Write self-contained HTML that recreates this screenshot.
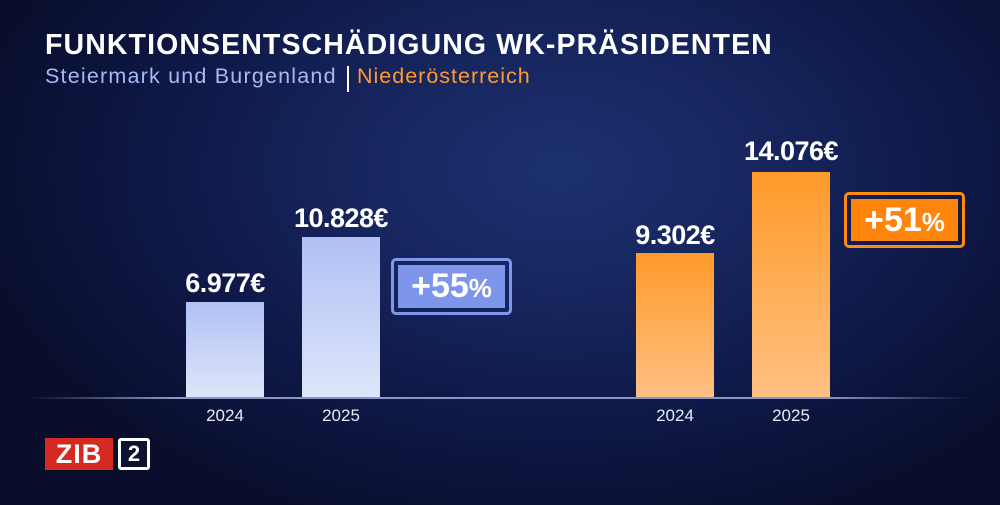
<!DOCTYPE html>
<html><head><meta charset="utf-8"><style>
body{margin:0;width:1000px;height:505px;overflow:hidden;font-family:"Liberation Sans","DejaVu Sans",sans-serif;
background:radial-gradient(ellipse 600px 380px at 560px 170px,#1d3170 0%,#15235a 40%,#0d1540 75%,#090e2c 100%);position:relative;color:#fff}
.a{position:absolute}
.bar{position:absolute;bottom:108px;width:78px}
.lb{background:linear-gradient(#b0c0f4,#dfe5fa)}
.ob{background:linear-gradient(#ff9a2a,#ffc083)}
.val{position:absolute;font-weight:bold;font-size:27px;width:160px;text-align:center;letter-spacing:-0.5px}
.yr{position:absolute;top:406px;font-size:17px;width:80px;text-align:center;color:#e8ecf6}
.box{position:absolute;width:115px;height:51px;border-radius:5px;padding:0}
.box div{position:absolute;left:6px;top:6px;right:6px;bottom:6px;font-weight:bold;font-size:34px;line-height:39px;text-align:center}
</style></head><body>
<div class="a" style="left:45px;top:29px;font-size:28.5px;font-weight:bold;letter-spacing:1.1px">FUNKTIONSENTSCHÄDIGUNG WK-PRÄSIDENTEN</div>
<div class="a" style="left:45px;top:64px;font-size:21.5px;letter-spacing:1.2px;color:#a9b9f3">Steiermark und Burgenland</div>
<div class="a" style="left:347px;top:66px;width:2px;height:26px;background:#fff"></div>
<div class="a" style="left:357px;top:64px;font-size:21.5px;letter-spacing:1px;color:#ff9a30">Niederösterreich</div>

<div class="a" style="left:30px;top:397px;width:940px;height:2px;background:linear-gradient(90deg,rgba(120,140,190,0),#8796c4 15%,#8796c4 85%,rgba(120,140,190,0))"></div>

<div class="bar lb" style="left:186px;height:95px"></div>
<div class="bar lb" style="left:302px;height:160px"></div>
<div class="bar ob" style="left:636px;height:144px"></div>
<div class="bar ob" style="left:752px;height:225px"></div>

<div class="val" style="left:145px;top:268px">6.977€</div>
<div class="val" style="left:261px;top:203px">10.828€</div>
<div class="val" style="left:595px;top:220px">9.302€</div>
<div class="val" style="left:711px;top:136px">14.076€</div>

<div class="yr" style="left:185px">2024</div>
<div class="yr" style="left:301px">2025</div>
<div class="yr" style="left:635px">2024</div>
<div class="yr" style="left:751px">2025</div>

<div class="box" style="left:391px;top:258px;border:3px solid #7f98ee;width:121px;height:57px;box-sizing:border-box"><div style="background:#7d96ec;left:4px;top:4px;right:4px;bottom:4px;line-height:43px">+55<span style="font-size:26px">%</span></div></div>
<div class="box" style="left:844px;top:192px;border:3px solid #ff8a14;width:121px;height:56px;box-sizing:border-box"><div style="background:#ff840c;left:4px;top:4px;right:4px;bottom:4px;line-height:42px">+51<span style="font-size:26px">%</span></div></div>

<div class="a" style="left:45px;top:438px;width:68px;height:32px;background:#d42a22;font-weight:bold;font-size:27px;line-height:32px;text-align:center;letter-spacing:1px">ZIB</div>
<div class="a" style="left:118px;top:438px;width:32px;height:32px;border:3px solid #fff;box-sizing:border-box;border-radius:3px;background:#0c1230;font-size:22px;font-weight:bold;line-height:26px;text-align:center">2</div>
</body></html>
